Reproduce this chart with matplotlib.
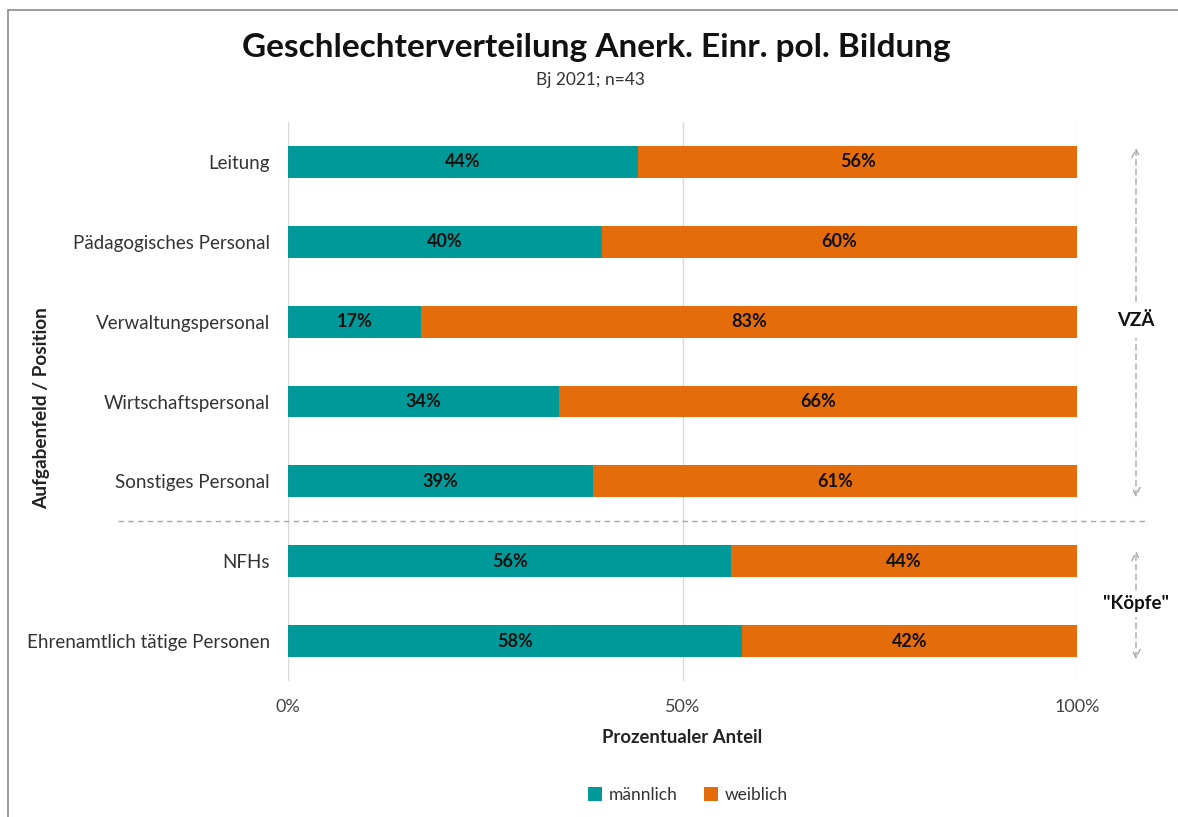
import matplotlib.pyplot as plt
from matplotlib.patches import Rectangle
from matplotlib.ticker import PercentFormatter

plt.rcParams['font.family'] = ['Lato', 'DejaVu Sans']

kategorien = ["Leitung", "Pädagogisches Personal", "Verwaltungspersonal",
              "Wirtschaftspersonal", "Sonstiges Personal", "NFHs",
              "Ehrenamtlich tätige Personen"]
maennlich = [0.444, 0.398, 0.168, 0.344, 0.387, 0.562, 0.576]
weiblich = [1 - m for m in maennlich]

teal = "#009999"
orange = "#E46C0A"

fig = plt.figure(figsize=(11.78, 8.17), dpi=100)
ax = fig.add_axes([288 / 1178, 1 - 681 / 817, 789 / 1178, 559 / 817])

y = list(range(len(kategorien)))
ax.barh(y, maennlich, height=0.4, color=teal, label="männlich", zorder=3)
ax.barh(y, weiblich, left=maennlich, height=0.4, color=orange, label="weiblich", zorder=3)

for i, (m, w) in enumerate(zip(maennlich, weiblich)):
    ax.text(m / 2, i, f"{round(m * 100):.0f}%", ha="center", va="center",
            fontsize=13, fontweight="bold", color="#111111", zorder=4)
    ax.text(m + w / 2, i, f"{round(w * 100):.0f}%", ha="center", va="center",
            fontsize=13, fontweight="bold", color="#111111", zorder=4)

ax.set_ylim(len(kategorien) - 0.5, -0.5)
ax.set_xlim(0, 1)
ax.set_yticks(y)
ax.set_yticklabels(kategorien, fontsize=13.5, color="#333333")
ax.set_xticks([0, 0.5, 1.0])
ax.xaxis.set_major_formatter(PercentFormatter(1.0, decimals=0))
ax.tick_params(axis="x", labelsize=13, colors="#444444", length=0, pad=13)
ax.tick_params(axis="y", length=0, pad=13)
ax.grid(axis="x", color="#d9d9d9", linewidth=1, zorder=0)
for s in ax.spines.values():
    s.set_visible(False)

ax.set_xlabel("Prozentualer Anteil", fontsize=13.3, fontweight="bold", color="#222222", labelpad=10)
ax.set_ylabel("Aufgabenfeld / Position", fontsize=13.7, fontweight="bold", color="#222222")
ax.yaxis.set_label_coords(50 / 1178, 0.5, transform=fig.transFigure)

# Trennlinie und Gruppenpfeile
sep = dict(color="#a6a6a6", linewidth=1, linestyle=(0, (4, 3)))
fig.add_artist(plt.Line2D([118 / 1178, 1145 / 1178], [1 - 521 / 817] * 2, **sep))

arrow = dict(arrowstyle="<->,head_length=0.6,head_width=0.3", color="#a6a6a6",
             linewidth=1, linestyle=(0, (4, 3)))
ax.annotate("", xy=(1136 / 1178, 1 - 145 / 817), xytext=(1136 / 1178, 1 - 500 / 817),
            xycoords="figure fraction", arrowprops=arrow)
ax.annotate("", xy=(1136 / 1178, 1 - 548 / 817), xytext=(1136 / 1178, 1 - 662 / 817),
            xycoords="figure fraction", arrowprops=arrow)
fig.text(1136 / 1178, 1 - 321 / 817, "VZÄ", ha="center", va="center", fontsize=13.5,
         fontweight="bold", color="#111111",
         bbox=dict(facecolor="white", edgecolor="none", pad=6))
fig.text(1136 / 1178, 1 - 604 / 817, "\"Köpfe\"", ha="center", va="center", fontsize=13.5,
         fontweight="bold", color="#111111",
         bbox=dict(facecolor="white", edgecolor="none", pad=3))

fig.text(596 / 1178, 1 - 48 / 817, "Geschlechterverteilung Anerk. Einr. pol. Bildung",
         ha="center", va="center", fontsize=24, fontweight="bold", color="#111111")
fig.text(591 / 1178, 1 - 80 / 817, "Bj 2021; n=43", ha="center", va="center",
         fontsize=12.5, color="#333333")

fig.legend(loc="center", bbox_to_anchor=(688 / 1178, 1 - 795 / 817), ncol=2,
           frameon=False, fontsize=12.5, handlelength=0.8, handleheight=0.8,
           columnspacing=1.5, handletextpad=0.4, labelcolor="#333333")

fig.add_artist(Rectangle((8 / 1178, -0.05), 1.2, 1 - 10 / 817 + 0.05,
                         transform=fig.transFigure, fill=False,
                         edgecolor="#8c8c8c", linewidth=1.2))

fig.savefig("out.png", dpi=100)
